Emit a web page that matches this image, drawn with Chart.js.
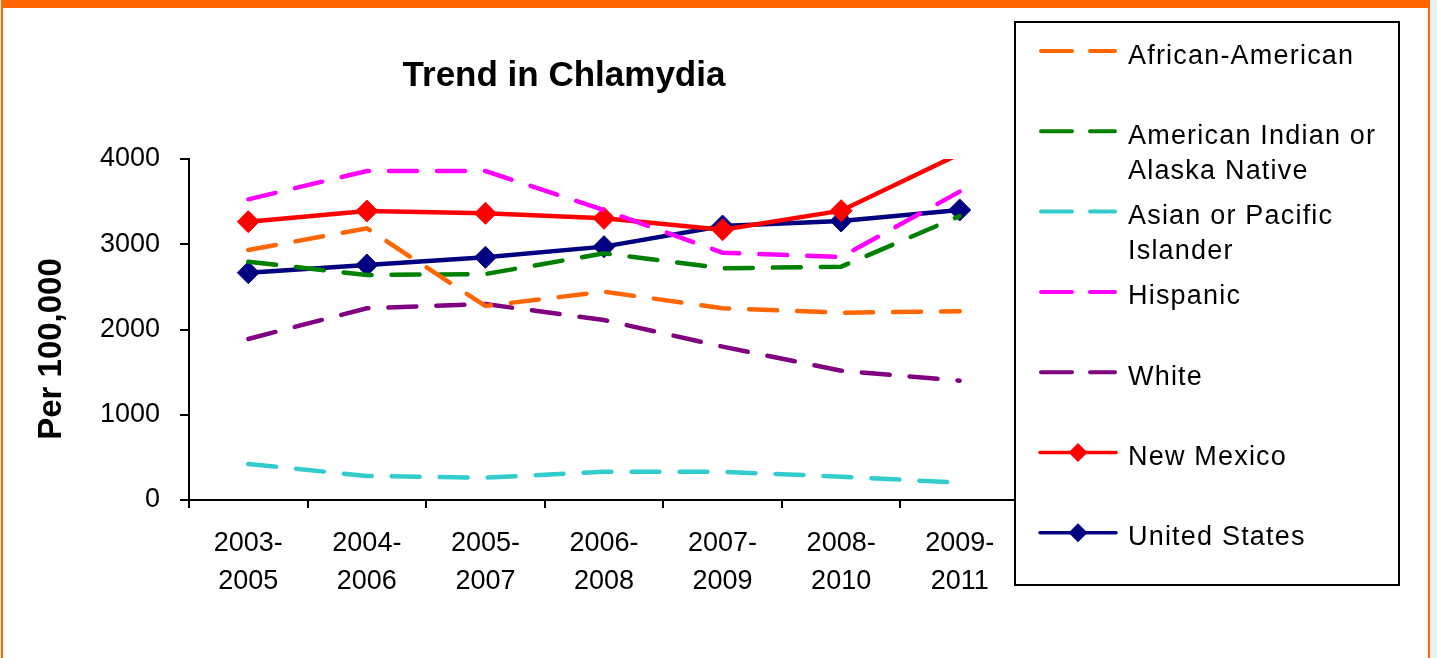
<!DOCTYPE html>
<html>
<head>
<meta charset="utf-8">
<title>Trend in Chlamydia</title>
<script src="https://cdn.jsdelivr.net/npm/chart.js@4.4.0/dist/chart.umd.min.js"></script>
<style>
    html, body { margin: 0; padding: 0; background: #e8f0f3; overflow: hidden; }
    #frame {
        position: absolute; left: 1px; top: 0; width: 1425px; height: 650px; background: #fff;
        border-top: 8px solid #ff6600; border-left: 2px solid #ff6600; border-right: 2px solid #ff6600;
    }
    #chart { position: absolute; left: 0; top: 0; }
</style>
</head>
<body>
<div id="frame"></div>
<canvas id="chart" width="1437" height="658"></canvas>
<script>
//--- Data (rates per 100,000, 3-year averages)
var periods = [['2003-', '2005'], ['2004-', '2006'], ['2005-', '2007'], ['2006-', '2008'],
               ['2007-', '2009'], ['2008-', '2010'], ['2009-', '2011']];
var yTicks = [0, 1000, 2000, 3000, 4000];

var africanAmerican = [2933, 3187, 2276, 2444, 2249, 2197, 2213];
var americanIndian  = [2796, 2639, 2651, 2893, 2718, 2737, 3331];
var asianPacific    = [422, 282, 262, 332, 331, 274, 203];
var hispanic        = [3527, 3859, 3859, 3400, 2901, 2850, 3617];
var white           = [1889, 2249, 2299, 2111, 1799, 1517, 1400];
var newMexico       = [3265, 3390, 3363, 3304, 3170, 3394, 4060];
var unitedStates    = [2667, 2757, 2847, 2972, 3214, 3273, 3402];

// legend text, one entry per line
var seriesNames = [
    ['African-American'],
    ['American Indian or', 'Alaska Native'],
    ['Asian or Pacific', 'Islander'],
    ['Hispanic'],
    ['White'],
    ['New Mexico'],
    ['United States']
];

var FONT = '"Liberation Sans", Arial, sans-serif';
Chart.defaults.font.family = FONT;
Chart.defaults.color = '#000';

function dashed(i, values, color) {
    return {
        label: seriesNames[i].join(' '),
        data: values,
        borderColor: color,
        backgroundColor: color,
        borderWidth: 4.5,
        borderDash: [28, 20],
        borderCapStyle: 'round',
        pointRadius: 0,
        tension: 0
    };
}

function marked(i, values, color, radius) {
    return {
        label: seriesNames[i].join(' '),
        data: values,
        borderColor: color,
        backgroundColor: color,
        borderWidth: 4.5,
        pointStyle: 'rectRot',
        pointRadius: radius,
        pointBorderWidth: 1,
        pointBackgroundColor: color,
        pointBorderColor: color,
        tension: 0
    };
}

//--- Title, axis title and boxed legend drawn by hand
var decorations = {
    id: 'decorations',
    afterDraw: function (chart) {
        var ctx = chart.ctx;
        ctx.save();
        ctx.fillStyle = '#000';

        // title
        ctx.font = 'bold 35px ' + FONT;
        ctx.textAlign = 'center';
        ctx.textBaseline = 'alphabetic';
        ctx.fillText('Trend in Chlamydia', 564, 86);

        // y axis title
        ctx.save();
        ctx.font = 'bold 33px ' + FONT;
        ctx.translate(61, 349);
        ctx.rotate(-Math.PI / 2);
        ctx.fillText('Per 100,000', 0, 0);
        ctx.restore();

        // legend box (white fill hides the end of the x axis)
        ctx.fillStyle = '#fff';
        ctx.fillRect(1015, 22, 384, 563);
        ctx.strokeStyle = '#000';
        ctx.lineWidth = 2;
        ctx.strokeRect(1015, 22, 384, 563);

        ctx.font = '27px ' + FONT;
        ctx.letterSpacing = '1.2px';
        ctx.textAlign = 'left';
        chart.data.datasets.forEach(function (ds, i) {
            var base = 63.5 + i * 80.3;
            var y = base - 12.5;
            ctx.strokeStyle = ds.borderColor;
            ctx.lineCap = 'round';
            ctx.setLineDash([]);
            ctx.beginPath();
            if (ds.borderDash) {
                ctx.lineWidth = 4;
                ctx.moveTo(1041, y); ctx.lineTo(1072, y);
                ctx.moveTo(1090, y); ctx.lineTo(1115, y);
                ctx.stroke();
            } else {
                ctx.lineWidth = 3.5;
                ctx.moveTo(1040, y); ctx.lineTo(1116, y);
                ctx.stroke();
                ctx.fillStyle = ds.borderColor;
                ctx.beginPath();
                ctx.moveTo(1078, y - 9.5); ctx.lineTo(1087.5, y);
                ctx.lineTo(1078, y + 9.5); ctx.lineTo(1068.5, y);
                ctx.closePath();
                ctx.fill();
            }
            ctx.fillStyle = '#000';
            seriesNames[i].forEach(function (line, j) {
                ctx.fillText(line, 1128, base + j * 35);
            });
        });
        ctx.restore();
    }
};

new Chart(document.getElementById('chart'), {
    type: 'line',
    plugins: [decorations],
    data: {
        labels: periods,
        datasets: [
            dashed(0, africanAmerican, '#ff6600'),
            dashed(1, americanIndian, '#008000'),
            dashed(2, asianPacific, '#33cccc'),
            dashed(3, hispanic, '#ff00ff'),
            dashed(4, white, '#800080'),
            // last point is off the top of the scale, so no marker there
            marked(5, newMexico, '#ff0000', [11, 11, 11, 11, 11, 11, 0]),
            marked(6, unitedStates, '#000080', 11)
        ]
    },
    options: {
        responsive: false,
        animation: false,
        events: [],
        layout: { padding: { left: 0, top: 159, right: 418, bottom: 0 } },
        plugins: {
            legend: { display: false },
            title: { display: false },
            tooltip: { enabled: false }
        },
        scales: {
            x: {
                type: 'category',
                offset: true,
                afterFit: function (scale) { scale.height = 158; },
                grid: { offset: true, drawOnChartArea: false, color: '#000', lineWidth: 2, tickLength: 8 },
                border: { color: '#000', width: 2 },
                ticks: { font: { size: 27, lineHeight: 1.43 }, padding: 16, maxRotation: 0, autoSkip: false }
            },
            y: {
                min: yTicks[0],
                max: yTicks[yTicks.length - 1],
                afterFit: function (scale) { scale.width = 189; },
                grid: { drawOnChartArea: false, color: '#000', lineWidth: 2, tickLength: 9 },
                border: { color: '#000', width: 2 },
                ticks: {
                    stepSize: yTicks[1] - yTicks[0],
                    font: { size: 27 },
                    padding: 20,
                    callback: function (value) { return String(value); }
                }
            }
        }
    }
});
</script>
</body>
</html>
